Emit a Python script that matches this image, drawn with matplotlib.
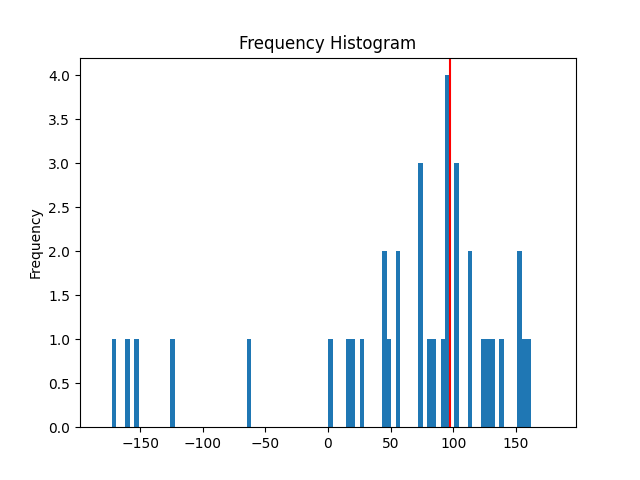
import numpy as np
import matplotlib
matplotlib.use("Agg")
import matplotlib.pyplot as plt

edges = np.linspace(-180, 180, 101)
# bin index -> count
bin_idx = [2, 5, 7, 15, 32, 50, 54, 55, 57, 62, 63, 65, 70, 72, 73, 75, 76, 78, 81, 84, 85, 86, 88, 92, 93, 94]
counts = [1, 1, 1, 1, 1, 1, 1, 1, 1, 2, 1, 2, 3, 1, 1, 1, 4, 3, 2, 1, 1, 1, 1, 2, 1, 1]
marker = 97.1

values = []
for i, c in zip(bin_idx, counts):
    values += [(edges[i] + edges[i + 1]) / 2] * c

plt.figure(figsize=(6.4, 4.8), dpi=100)
plt.hist(values, bins=edges)
plt.axvline(marker, color='red')
plt.title('Frequency Histogram')
plt.ylabel('Frequency')
plt.savefig('out.png')
